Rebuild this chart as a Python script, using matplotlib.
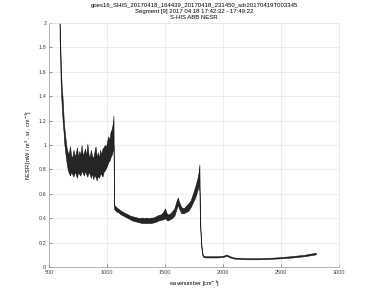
import matplotlib
matplotlib.use("Agg")
import matplotlib.pyplot as plt

# NESR spectrum: wavenumber, lower and upper edge of the noisy trace
wavenumber = [
    590, 595, 600, 605, 610, 615, 620, 625, 630, 640, 650, 660, 670, 680, 690,
    700, 710, 720, 730, 740, 750, 760, 770, 780, 790, 800, 810, 820, 830, 840,
    850, 860, 870, 880, 890, 900, 910, 920, 930, 940, 950, 960, 970, 980, 990,
    1000, 1010, 1020, 1030, 1040, 1050, 1055,
    1060, 1070, 1080, 1100, 1120, 1140, 1160, 1180, 1200, 1220, 1240, 1260, 1280,
    1300, 1320, 1340, 1360, 1380, 1400, 1420, 1440, 1460, 1480, 1500, 1510, 1520,
    1540, 1560, 1580, 1600, 1610, 1620, 1640, 1660, 1680, 1700, 1720, 1740, 1760,
    1780, 1790, 1796,
    1800, 1805, 1810, 1820, 1830, 1850, 1900, 1950, 2000, 2030, 2060, 2100, 2200,
    2300, 2400, 2500, 2600, 2700, 2800,
]
nesr_lo = [
    1.90, 1.70, 1.50, 1.38, 1.30, 1.22, 1.15, 1.10, 1.02, 0.93, 0.86, 0.80, 0.77, 0.75, 0.78,
    0.76, 0.74, 0.78, 0.76, 0.73, 0.78, 0.76, 0.75, 0.79, 0.77, 0.75, 0.79, 0.76, 0.74, 0.78,
    0.76, 0.73, 0.77, 0.72, 0.75, 0.74, 0.71, 0.75, 0.73, 0.76, 0.76, 0.74, 0.78, 0.79, 0.81,
    0.83, 0.86, 0.87, 0.90, 0.92, 0.96, 0.99,
    0.475, 0.465, 0.455, 0.445, 0.43, 0.42, 0.41, 0.40, 0.39, 0.38, 0.375, 0.37, 0.365,
    0.36, 0.36, 0.36, 0.36, 0.36, 0.365, 0.37, 0.38, 0.385, 0.39, 0.40, 0.39, 0.38,
    0.39, 0.40, 0.42, 0.48, 0.51, 0.48, 0.44, 0.44, 0.45, 0.46, 0.49, 0.53, 0.57,
    0.63, 0.67, 0.62,
    0.40, 0.28, 0.18, 0.10, 0.082, 0.078, 0.078, 0.078, 0.082, 0.092, 0.078, 0.068, 0.063,
    0.063, 0.066, 0.071, 0.078, 0.088, 0.103,
]
nesr_hi = [
    2.00, 1.85, 1.70, 1.55, 1.45, 1.40, 1.32, 1.22, 1.15, 1.06, 0.98, 0.94, 0.93, 0.99, 0.91,
    0.90, 0.96, 0.91, 0.93, 0.98, 0.90, 0.95, 0.92, 1.00, 0.91, 0.94, 0.97, 0.91, 1.01, 0.92,
    0.90, 0.96, 0.91, 0.89, 0.94, 0.99, 0.90, 0.94, 0.89, 0.96, 0.92, 0.97, 0.98, 1.00, 0.98,
    1.03, 1.07, 1.04, 1.11, 1.13, 1.18, 1.24,
    0.51, 0.50, 0.49, 0.475, 0.46, 0.45, 0.44, 0.43, 0.42, 0.415, 0.41, 0.405, 0.40,
    0.405, 0.40, 0.405, 0.40, 0.405, 0.405, 0.415, 0.425, 0.43, 0.445, 0.48, 0.45, 0.43,
    0.435, 0.455, 0.48, 0.545, 0.57, 0.535, 0.49, 0.48, 0.50, 0.52, 0.545, 0.60, 0.66,
    0.73, 0.78, 0.84,
    0.50, 0.32, 0.22, 0.12, 0.092, 0.088, 0.088, 0.088, 0.092, 0.102, 0.088, 0.077, 0.072,
    0.072, 0.075, 0.081, 0.090, 0.100, 0.117,
]

title_lines = [
    "goes16_SHIS_20170418_164439_20170418_231450_sdr20170419T003345",
    "Segment [9] 2017 04 18 17:42:32 - 17:49:22",
    "S-HIS ABB NESR",
]
x_ticks = [500, 1000, 1500, 2000, 2500, 3000]
y_ticks = [0, 0.2, 0.4, 0.6, 0.8, 1, 1.2, 1.4, 1.6, 1.8, 2]

plt.rcParams["font.family"] = ["Liberation Sans", "DejaVu Sans"]

fig = plt.figure(figsize=(3.75, 3.01), dpi=100)
ax = fig.add_axes([0.131, 0.113, 0.773, 0.811])

ax.fill_between(wavenumber, nesr_lo, nesr_hi, color="black", linewidth=0.4, alpha=0.85)

ax.set_xlim(500, 3000)
ax.set_ylim(0, 2)
ax.set_xticks(x_ticks)
ax.set_xticklabels([str(t) for t in x_ticks])
ax.set_yticks(y_ticks)
ax.set_yticklabels([f"{t:g}" for t in y_ticks])
ax.tick_params(direction="in", length=2, width=0.4, labelsize=4, colors="#444444", pad=2)
ax.grid(True, color="#e6e6e6", linewidth=0.5)
ax.set_axisbelow(True)
for side in ["left", "bottom"]:
    ax.spines[side].set_color("#999999")
    ax.spines[side].set_linewidth(0.5)
for side in ["top", "right"]:
    ax.spines[side].set_color("#e6e6e6")
    ax.spines[side].set_linewidth(0.5)

ax.set_xlabel("wavenumber [cm$^{-1}$]", fontsize=4, labelpad=3)
ax.set_ylabel("NESR [mW / m$^2$ . sr . cm$^{-1}$]", fontsize=4, labelpad=3)
ax.set_title("\n".join(title_lines), fontsize=4.3, linespacing=1.25, pad=3)

fig.savefig("out.png", dpi=100)
